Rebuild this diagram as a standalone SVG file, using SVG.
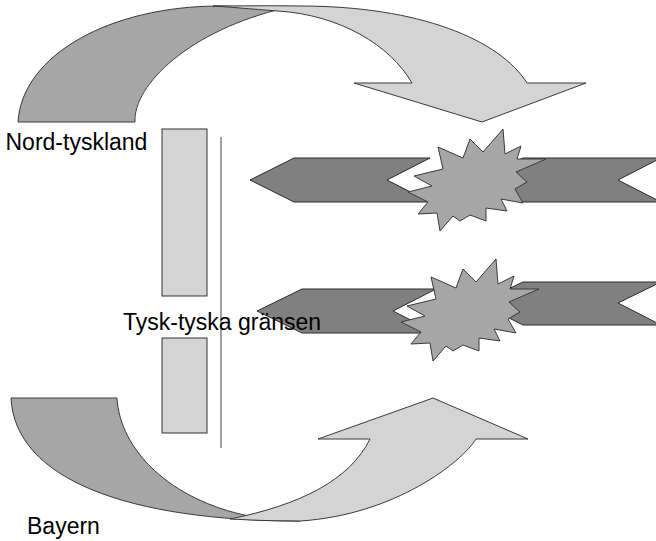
<svg xmlns="http://www.w3.org/2000/svg" width="656" height="541" viewBox="0 0 656 541">
<style>
.dark{fill:#a6a6a6;stroke:#3a3a3a;stroke-width:1}
.light{fill:#d4d4d4;stroke:#3a3a3a;stroke-width:1}
.chev{fill:#808080;stroke:#2a2a2a;stroke-width:1}
.star{fill:#a6a6a6;stroke:#3a3a3a;stroke-width:1}
.rect{fill:#d4d4d4;stroke:#333;stroke-width:1}
.lbl{font-family:"Liberation Sans",Arial,sans-serif;font-size:23px;fill:#000}
</style>
<defs>
<polygon id="starShape" points="503,129 505,154 521,146 517,159 546,159 516,172 527,182 515,189 523,203 501,199 507,211 486,208 486,221 470,215 460,221 453,216 440,231 437,213 418,214 428,202 408,192 432,186 414,176 443,169 438,147 463,158 470,139 483,152"/>
</defs>
<rect width="656" height="541" fill="#fff"/>
<g id="connectors">
<g id="arrow-top">
<path class="dark" d="M18,122 C22,55 110,6 220,6 L285,8 C190,30 133,85 135,122 Z"/>
<path class="light" d="M213,6 C240,6 270,5.5 300,6 C420,6 500,40 527,83 L586,83 L482,122 L354,83 L412,83 C390,45 340,15 278,11 C250,9 230,7 213,6 Z"/>
</g>
<g id="arrow-bottom">
<path class="dark" d="M11,398 L117,398 C120,450 170,500 249,516 L300,521 C130,521 15,480 11,398 Z"/>
<path class="light" d="M318,439 L433,398 L528,439 L476,439 C462,462 395,515 300,521 C270,521 250,520 230,519 C300,505 350,480 370,439 Z"/>
</g>
</g>
<g id="border">
<rect class="rect" x="162" y="129" width="45" height="167"/>
<rect class="rect" x="162" y="338" width="45" height="95"/>
<line x1="221" y1="137" x2="221" y2="448" stroke="#444" stroke-width="1"/>
</g>
<g id="clash-top">
<polygon class="chev" points="250,180 294,158 430,158 387,180 430,202 294,202"/>
<polygon class="chev" points="479,180 523,158 661,158 618,180 661,202 523,202"/>
<use href="#starShape" class="star"/>
</g>
<g id="clash-bottom">
<polygon class="chev" points="257,311 302,289 436,289 393,311 436,333 302,333"/>
<polygon class="chev" points="479,303 523,282 661,282 618,303 661,325 523,325"/>
<use href="#starShape" class="star" transform="translate(-7,130)"/>
</g>
<g id="label-nord"><text class="lbl" x="5.5" y="150">Nord-tyskland</text></g>
<g id="label-grans"><text class="lbl" x="123" y="330">Tysk-tyska gränsen</text></g>
<g id="label-bayern"><text class="lbl" x="27" y="534">Bayern</text></g>
</svg>
